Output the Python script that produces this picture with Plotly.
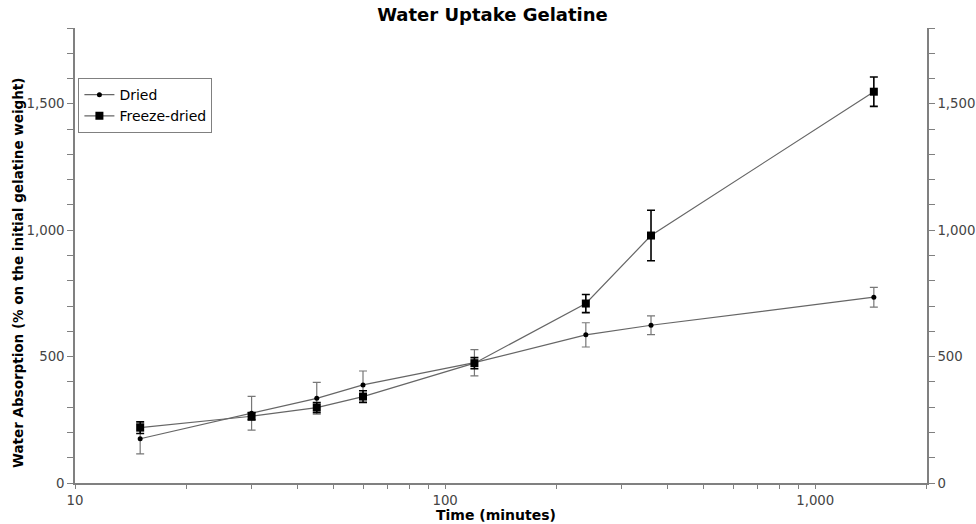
import plotly.graph_objects as go

# Data
time_min = [15, 30, 45, 60, 120, 240, 360, 1440]
dried = [175, 276, 335, 388, 476, 586, 624, 735]
dried_err = [60, 67, 63, 55, 52, 48, 37, 39]
freeze_dried = [219, 264, 298, 342, 474, 710, 979, 1548]
freeze_err = [23, 15, 20, 23, 22, 36, 100, 58]

x_major = [10, 100, 1000]
x_major_text = ["10", "100", "1,000"]
x_minor = [20, 30, 40, 50, 60, 70, 80, 90, 200, 300, 400, 500, 600, 700, 800, 900, 2000]
y_major = [0, 500, 1000, 1500]
y_minor = [100, 200, 300, 400, 600, 700, 800, 900, 1100, 1200, 1300, 1400, 1600, 1700, 1800]

FONT = "DejaVu Sans"
AX = "#808080"

fig = go.Figure()
fig.add_trace(go.Scatter(
    x=time_min, y=dried, name="Dried", mode="lines+markers",
    line=dict(color="#666666", width=1.2),
    marker=dict(symbol="circle", size=5, color="black"),
    error_y=dict(type="data", array=dried_err, visible=True, color="#777777", thickness=1.2, width=4),
))
fig.add_trace(go.Scatter(
    x=time_min, y=freeze_dried, name="Freeze-dried", mode="lines+markers",
    line=dict(color="#666666", width=1.2),
    marker=dict(symbol="square", size=8, color="black"),
    error_y=dict(type="data", array=freeze_err, visible=True, color="black", thickness=1.6, width=4),
))
# invisible trace for the mirrored right axis
fig.add_trace(go.Scatter(x=time_min, y=dried, yaxis="y2", showlegend=False,
                         mode="markers", marker=dict(opacity=0), hoverinfo="skip"))

common_y = dict(
    range=[0, 1800], tickvals=y_major, tickformat=",", ticks="outside", ticklen=6,
    tickcolor=AX, showline=True, linecolor=AX, linewidth=1.5, showgrid=False, zeroline=False,
    minor=dict(tickvals=y_minor, ticks="outside", ticklen=6, tickcolor=AX, showgrid=False),
    tickfont=dict(family=FONT, size=13.3, color="#444444"), automargin=False,
)

fig.update_layout(
    width=976, height=524,
    margin=dict(l=75, r=49, t=28, b=41),
    paper_bgcolor="white", plot_bgcolor="white",
    font=dict(family=FONT, color="#222222"),
    title=dict(text="<b>Water Uptake Gelatine</b>", x=0.49, xref="paper", y=1 - 15 / 524,
               yref="container", yanchor="middle", automargin=False,
               font=dict(family=FONT, size=18, color="black")),
    xaxis=dict(
        type="log", range=[1, 3.302], tickvals=x_major, ticktext=x_major_text,
        ticks="outside", ticklen=4, tickcolor=AX, showline=True, linecolor=AX, linewidth=1.5,
        showgrid=False, zeroline=False, automargin=False,
        minor=dict(tickvals=x_minor, ticks="outside", ticklen=4, tickcolor=AX, showgrid=False),
        tickfont=dict(family=FONT, size=13.3, color="#444444"),
    ),
    yaxis=dict(**common_y),
    yaxis2=dict(**common_y, overlaying="y", side="right"),
    legend=dict(
        x=0.004, y=0.89, xanchor="left", yanchor="top",
        bgcolor="white", bordercolor="#808080", borderwidth=1,
        font=dict(family=FONT, size=14, color="black"),
        tracegroupgap=0, itemwidth=30,
    ),
    showlegend=True,
    annotations=[
        dict(text="<b>Time (minutes)</b>", xref="paper", yref="paper",
             x=(496 - 75) / 852, y=-(515 - 483) / 455, xanchor="center", yanchor="middle",
             showarrow=False, font=dict(family=FONT, size=14, color="black")),
        dict(text="<b>Water Absorption (% on the initial gelatine weight)</b>", xref="paper", yref="paper",
             x=(18 - 75) / 852, y=(483 - 273) / 455, xanchor="center", yanchor="middle",
             textangle=-90, showarrow=False, font=dict(family=FONT, size=13.5, color="black")),
    ],
)

fig.write_html(
    "out.html",
    config={"displayModeBar": False},
    post_script="document.body.style.margin='0';document.body.style.overflow='hidden';",
)
